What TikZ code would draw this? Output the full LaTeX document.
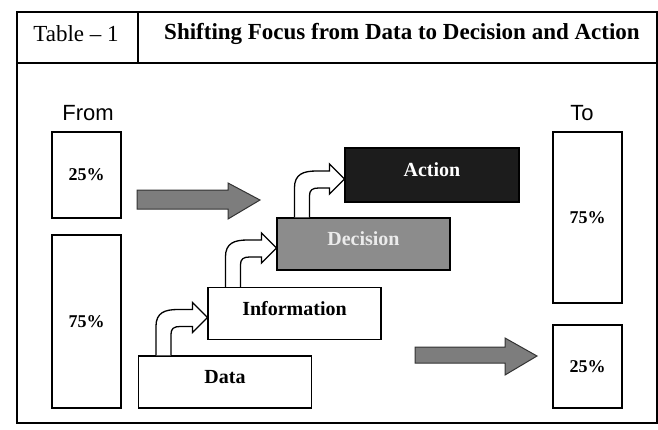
\documentclass[tikz,border=0pt]{standalone}
\usepackage{fontspec}
\setmainfont{Liberation Serif}
\newfontfamily\arialfont{Liberation Sans}
\usetikzlibrary{calc}
\definecolor{arrowgray}{RGB}{125,125,125}
\definecolor{decgray}{RGB}{140,140,140}
\definecolor{actblack}{RGB}{28,28,28}
\definecolor{dectext}{RGB}{235,235,235}
\begin{document}
\begin{tikzpicture}[x=1pt,y=-1pt,
  frame/.style={draw=black,line width=1.4pt},
  pctbox/.style={draw=black,line width=1.1pt,inner sep=0pt,
    font=\fontsize{18}{21}\selectfont\bfseries},
  stagebox/.style={draw=black,line width=1.1pt,inner sep=0pt,
    minimum width=173pt,minimum height=52pt,text height=13pt,text depth=10pt,
    font=\fontsize{20}{23}\selectfont\bfseries},
  sidelabel/.style={inner sep=0pt,font=\arialfont\fontsize{22}{25}\selectfont},
  blockarrow/.style={draw=black!80,line width=1pt,fill=arrowgray},
  bent/.style={draw=black,line width=1.3pt,fill=white,line join=miter}
]
\useasboundingbox (0,0) rectangle (658,429);
% frame
\draw[frame] (17,12) rectangle (657,423);
\draw[frame] (17,63) -- (657,63);
\draw[frame] (138,12) -- (138,63);
\node[inner sep=0pt,font=\fontsize{23}{26}\selectfont] (tablelbl) at (76,34) {Table -- 1};
\node[inner sep=0pt,font=\fontsize{23}{26}\selectfont\bfseries] (title) at (402,34) {Shifting Focus from Data to Decision and Action};
% from / to
\node[sidelabel] (from) at (88,113) {From};
\node[sidelabel] (to) at (582,113) {To};
\node[pctbox,minimum width=69pt,minimum height=86pt] (f25) at (86.5,175) {25\%};
\node[pctbox,minimum width=69pt,minimum height=173pt] (f75) at (86.5,321.5) {75\%};
\node[pctbox,minimum width=69pt,minimum height=171pt] (t75) at (587.5,217.5) {75\%};
\node[pctbox,minimum width=69pt,minimum height=83pt] (t25) at (587.5,366.5) {25\%};
% block arrows
\draw[blockarrow] (137,190) -- (228,190) -- (228,183) -- (260,200) -- (228,219) -- (228,209) -- (137,209) -- cycle;
\draw[blockarrow] (415,347) -- (505,347) -- (505,338) -- (537,356) -- (505,375) -- (505,363) -- (415,363) -- cycle;
% stages
\node[stagebox] (data) at (225,382) {Data};
\node[stagebox] (info) at (294.5,313.5) {Information};
\node[stagebox,fill=decgray,text=dectext] (dec) at (363.5,244) {Decision};
\node[stagebox,fill=actblack,text=white,minimum width=174pt,minimum height=54pt] (act) at (432,175) {Action};
% bent arrows
\foreach \src/\dst in {data/info,info/dec,dec/act}{
\draw[bent] let \p1=($(\dst.west)+(0,4)$), \p2=(\src.north west) in
  ({\x2+18pt},\y2) -- ({\x2+18pt},{\y1-9pt})
  .. controls ({\x2+18pt},{\y1+5pt}) and ({\x2+27pt},{\y1+8pt}) .. ({\x2+40pt},{\y1+8pt})
  -- ({\x1-15pt},{\y1+8pt}) -- ({\x1-15pt},{\y1+15pt}) -- (\p1)
  -- ({\x1-15pt},{\y1-15pt}) -- ({\x1-15pt},{\y1-9pt}) -- ({\x2+42pt},{\y1-9pt})
  .. controls ({\x2+36pt},{\y1-9pt}) and ({\x2+33pt},{\y1-11pt}) .. ({\x2+33pt},{\y1-17pt})
  -- ({\x2+33pt},\y2);
}
\end{tikzpicture}
\end{document}
